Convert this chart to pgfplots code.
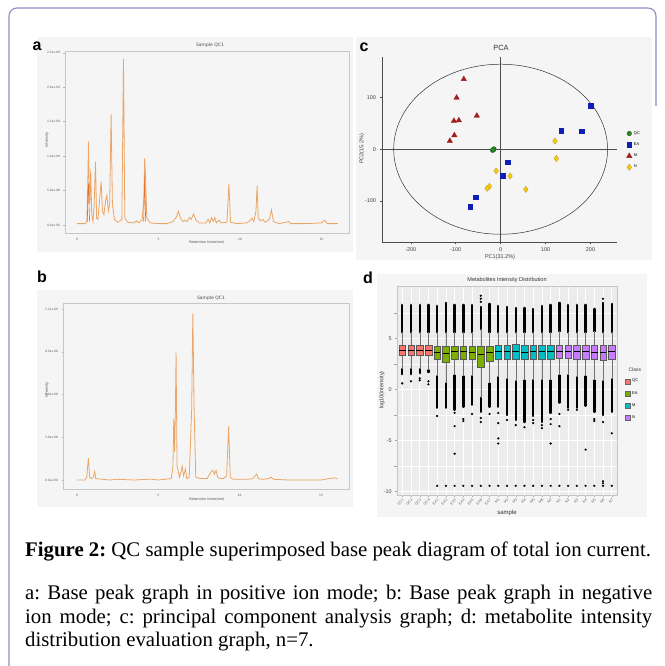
\documentclass[border=0pt]{standalone}
\usepackage{fontspec}
\setmainfont{Liberation Serif}
\setsansfont{Liberation Sans}
\newfontfamily\dejavu{DejaVu Sans}
\usepackage{pgfplots}
\pgfplotsset{compat=1.18}
\usepgfplotslibrary{statistics}
\frenchspacing
\definecolor{bordc}{RGB}{140,140,200}
\definecolor{panelbg}{RGB}{245,245,245}
\definecolor{chromc}{RGB}{236,165,100}
\definecolor{chromd}{RGB}{228,115,40}
\definecolor{qcg}{RGB}{40,140,40}
\definecolor{eab}{RGB}{15,30,180}
\definecolor{mr}{RGB}{160,30,30}
\definecolor{ny}{RGB}{245,205,20}
\definecolor{qcc}{RGB}{248,118,109}
\definecolor{eac}{RGB}{124,174,0}
\definecolor{mc}{RGB}{0,191,196}
\definecolor{nc}{RGB}{199,124,255}
\definecolor{dbg}{RGB}{236,236,236}
\newcommand{\bx}[7]{\addplot[boxplot prepared={draw position=#1, lower whisker=#2, lower quartile=#3, median=#4, upper quartile=#5, upper whisker=#6, box extend=0.75, whisker extend=0}, fill=#7, draw=black!65, line width=0.35pt, forget plot] coordinates {};}
\pgfplotsset{
  chrom/.style={scale only axis, axis line style={draw=gray!45, line width=0.4pt},
    tick style={gray!60, line width=0.3pt}, major tick length=1.5pt, tick align=outside,
    xtick pos=lower, ytick pos=left,
    tick label style={font=\dejavu\fontsize{3}{3.5}\selectfont, text=gray!70!black},
    /pgf/number format/assume math mode=true,
    xtick={0,5,10,15}}
}
\begin{document}
\begin{tikzpicture}
\path[use as bounding box] (0pt,0pt) rectangle (664pt,666pt);
% outer frame
\draw[bordc, line width=1.1pt] (9pt,0pt) -- (9pt,650pt) arc[start angle=180, end angle=90, radius=8pt] -- (648pt,658pt) arc[start angle=90, end angle=0, radius=8pt] -- (656pt,560pt);
% panel backgrounds
\fill[panelbg] (37pt,414pt) rectangle (353pt,629pt);
\fill[panelbg] (37pt,159pt) rectangle (353pt,376pt);
\fill[panelbg] (356pt,406pt) rectangle (652pt,629pt);
\fill[panelbg] (377pt,149pt) rectangle (647pt,392pt);
% panel letters
\node[font=\sffamily\bfseries\fontsize{16}{16}\selectfont] at (37pt,620pt) {a};
\node[font=\sffamily\bfseries\fontsize{16}{16}\selectfont] at (42pt,389pt) {b};
\node[font=\sffamily\bfseries\fontsize{16}{16}\selectfont] at (364pt,619pt) {c};
\node[font=\sffamily\bfseries\fontsize{16}{16}\selectfont] at (368pt,388pt) {d};

% ---------------- panel a
\begin{axis}[chrom, at={(65pt,433pt)}, anchor=south west, width=284pt, height=182pt,
  xmin=-0.74, xmax=16.69, ymin=-0.116, ymax=2.525,
  ytick={0,0.5,1,1.5,2,2.5},
  yticklabels={0.0e+00,5.0e+08,1.0e+09,1.5e+09,2.0e+09,2.5e+09}]
\addplot[chromc, line width=0.8pt] coordinates {
(0,0.02) (0.5,0.02) (0.6,0.05) (0.65,0.5) (0.70,1.21) (0.74,0.6) (0.78,0.3) (0.84,0.80) (0.90,0.15)
(0.98,0.05) (1.05,0.3) (1.13,0.92) (1.2,0.1) (1.28,0.08) (1.36,0.3) (1.48,0.63) (1.56,0.2) (1.65,0.15)
(1.75,0.35) (1.83,0.43) (1.92,0.2) (2.0,0.3) (2.09,1.60) (2.17,0.3) (2.3,0.08) (2.5,0.04) (2.75,0.08)
(2.85,2.41) (2.93,0.1) (3.1,0.04) (3.5,0.03) (3.65,0.06) (3.8,0.03) (4.0,0.08) (4.1,0.4) (4.15,0.97)
(4.2,0.73) (4.28,0.1) (4.5,0.03) (5.0,0.02) (5.5,0.02) (5.9,0.05) (6.1,0.12) (6.22,0.2) (6.35,0.1)
(6.5,0.05) (6.6,0.07) (6.75,0.05) (6.9,0.11) (7.0,0.08) (7.15,0.16) (7.3,0.07) (7.5,0.03) (7.9,0.03)
(8.05,0.08) (8.15,0.03) (8.25,0.11) (8.35,0.05) (8.45,0.11) (8.55,0.03) (8.7,0.07) (8.85,0.03)
(9.2,0.04) (9.32,0.60) (9.42,0.04) (9.8,0.02) (10.4,0.03) (10.6,0.06) (10.74,0.1) (10.85,0.05)
(10.98,0.2) (11.05,0.57) (11.12,0.1) (11.25,0.06) (11.4,0.08) (11.55,0.04) (11.8,0.08) (11.93,0.22)
(12.05,0.05) (12.4,0.02) (13.0,0.05) (13.1,0.02) (14.0,0.02) (15.0,0.03) (15.2,0.07) (15.35,0.02) (16.0,0.02)};
\addplot[chromd, line width=0.6pt] coordinates {(0.63,0.05) (0.67,0.5) (0.70,0.6) (0.73,0.35) (0.77,0.05)};
\addplot[chromd, line width=0.6pt] coordinates {(4.09,0.05) (4.15,0.73) (4.21,0.05)};
\end{axis}
\node[font=\dejavu\fontsize{4.5}{5}\selectfont, text=black!70] at (210pt,621pt) {Sample QC1};
\node[font=\dejavu\fontsize{3.5}{4}\selectfont, text=black!70, rotate=90] at (47pt,526pt) {Intensity};
\node[font=\dejavu\fontsize{3.5}{4}\selectfont, text=black!70] at (207pt,424pt) {Retention time(min)};

% ---------------- panel b
\begin{axis}[chrom, at={(63pt,177pt)}, anchor=south west, width=286pt, height=186pt,
  xmin=-0.86, xmax=16.72, ymin=-0.063, ymax=1.242,
  ytick={0,0.3,0.6,0.9,1.2},
  yticklabels={0.0e+00,3.0e+08,6.0e+08,9.0e+08,1.2e+09}]
\addplot[chromc, line width=0.8pt] coordinates {
(0,0.0) (0.5,0.0) (0.6,0.02) (0.70,0.154) (0.78,0.02) (0.9,0.01) (1.0,0.02) (1.09,0.06) (1.15,0.01)
(2.0,0.0) (2.5,0.005) (3.5,0.0) (4.3,0.005) (4.6,0.005) (5.0,0.0) (5.8,0.01) (5.9,0.1) (5.95,0.43)
(6.0,0.2) (6.05,0.5) (6.09,0.894) (6.15,0.1) (6.3,0.02) (6.4,0.06) (6.47,0.096) (6.55,0.03) (6.6,0.05)
(6.67,0.077) (6.75,0.01) (6.9,0.02) (7.05,0.5) (7.12,1.17) (7.2,0.5) (7.3,0.02) (7.6,0.01) (8.0,0.01)
(8.1,0.03) (8.25,0.06) (8.35,0.068) (8.45,0.04) (8.55,0.068) (8.65,0.02) (8.8,0.01) (9.0,0.01)
(9.2,0.03) (9.32,0.376) (9.42,0.02) (9.6,0.005) (10.5,0.005) (10.8,0.01) (11.05,0.042) (11.15,0.01)
(11.4,0.005) (11.8,0.01) (11.93,0.02) (12.1,0.005) (13.0,0.0) (14.0,0.0) (15.0,0.0) (15.5,0.01)
(15.8,0.015) (16.0,0.01)};
\end{axis}
\node[font=\dejavu\fontsize{4.5}{5}\selectfont, text=black!70] at (211pt,368pt) {Sample QC1};
\node[font=\dejavu\fontsize{3.5}{4}\selectfont, text=black!70, rotate=90] at (47pt,276pt) {Intensity};
\node[font=\dejavu\fontsize{3.5}{4}\selectfont, text=black!70] at (207pt,167pt) {Retention time(min)};

% ---------------- panel c
\begin{axis}[at={(382pt,424pt)}, anchor=south west, scale only axis, width=235pt, height=185pt,
  xmin=-264, xmax=259, ymin=-180, ymax=179,
  axis x line*=bottom, axis y line*=left,
  axis line style={draw=black!70, line width=0.6pt},
  tick style={black!70, line width=0.5pt}, tick align=outside, major tick length=2.5pt,
  xtick={-200,-100,0,100,200}, ytick={-100,0,100},
  tick label style={font=\sffamily\fontsize{5.5}{6}\selectfont, text=black!75},
  /pgf/number format/assume math mode=true, clip=false,
  legend style={at={(rel axis cs:1.04,0.61)}, anchor=north west, draw=none, fill=none,
    font=\sffamily\fontsize{4}{4.5}\selectfont, row sep=3pt, inner sep=0pt},
  legend cell align=left,
  legend image code/.code={\draw[mark repeat=2,mark phase=2,#1] plot coordinates {(0pt,0pt) (3pt,0pt) (6pt,0pt)};}]
\draw[black!80, line width=0.5pt] (axis cs:0,0) ellipse [x radius=238, y radius=165];
\addplot[black!70, line width=0.6pt, forget plot] coordinates {(0,-180) (0,179)};
\addplot[black!70, line width=0.6pt, forget plot] coordinates {(-264,0) (259,0)};
\addplot[only marks, mark=*, mark size=2.3pt, qcg, mark options={draw=qcg!70!black}] coordinates {(-17.8,-2) (-15.5,-0.5) (-14.8,0.5) (-16.5,-1)};
\addlegendentry{QC}
\addplot[only marks, mark=square*, mark size=2.3pt, eab] coordinates {(200,84) (135,36) (180,35) (16,-25) (4,-51) (-56,-93) (-68,-111)};
\addlegendentry{EA}
\addplot[only marks, mark=triangle*, mark size=3.1pt, mr] coordinates {(-82,136) (-98,100) (-53,65) (-104,55) (-93,56) (-103,27) (-113,16)};
\addlegendentry{M}
\addplot[only marks, mark=diamond*, mark size=3.1pt, ny, mark options={draw=ny!75!black, line width=0.3pt}] coordinates {(121,16) (124,-18) (-10,-42) (21,-52) (56,-78) (-25,-72) (-30,-76)};
\addlegendentry{N}
\end{axis}
\node[font=\sffamily\fontsize{7.5}{8}\selectfont, text=black!80] at (501pt,618pt) {PCA};
\node[font=\sffamily\fontsize{5.5}{6}\selectfont, text=black!75, rotate=90] at (362pt,517pt) {PC2(15.2\%)};
\node[font=\sffamily\fontsize{5.5}{6}\selectfont, text=black!75] at (500pt,409pt) {PC1(31.2\%)};

% ---------------- panel d
\begin{axis}[at={(397pt,171pt)}, anchor=south west, scale only axis, width=220pt, height=209pt,
  xmin=0.4, xmax=25.6, ymin=-10.35, ymax=10.15,
  axis background/.style={fill=dbg},
  axis line style={draw=gray!45, line width=0.5pt},
  tick style={gray!70, line width=0.4pt}, tick align=outside, major tick length=1.8pt,
  xtick pos=lower, ytick pos=left,
  xtick={1,...,25},
  xticklabels={QC1,QC2,QC3,QC4,EA1,EA2,EA3,EA4,EA5,EA6,EA7,M1,M2,M3,M4,M5,M6,M7,N1,N2,N3,N4,N5,N6,N7},
  x tick label style={rotate=45, anchor=north east, font=\sffamily\fontsize{3.6}{4}\selectfont, text=black!60, inner sep=1pt},
  ytick={-10,-5,0,5},
  minor ytick={-7.5,-2.5,2.5,7.5},
  y tick label style={font=\sffamily\fontsize{5.5}{6}\selectfont, text=black!70},
  /pgf/number format/assume math mode=true,
  grid=both, major grid style={white, line width=0.6pt}, minor grid style={white, line width=0.3pt},
  boxplot/draw direction=y,
  boxplot/every median/.style={black, line width=0.9pt},
  boxplot/every whisker/.style={black!55, line width=0.35pt},
  legend style={at={(rel axis cs:1.035,0.565)}, anchor=north west, draw=none, fill=none,
    font=\sffamily\fontsize{4}{4.5}\selectfont, row sep=4pt, inner sep=0pt},
  legend cell align=left]
\addlegendimage{legend image code/.code={\draw[fill=qcc, draw=black!60, line width=0.3pt] (0pt,-2.5pt) rectangle (5pt,2.5pt);}}
\addlegendentry{QC}
\addlegendimage{legend image code/.code={\draw[fill=eac, draw=black!60, line width=0.3pt] (0pt,-2.5pt) rectangle (5pt,2.5pt);}}
\addlegendentry{EA}
\addlegendimage{legend image code/.code={\draw[fill=mc, draw=black!60, line width=0.3pt] (0pt,-2.5pt) rectangle (5pt,2.5pt);}}
\addlegendentry{M}
\addlegendimage{legend image code/.code={\draw[fill=nc, draw=black!60, line width=0.3pt] (0pt,-2.5pt) rectangle (5pt,2.5pt);}}
\addlegendentry{N}
% dense outlier columns
\addplot[black, line width=2.4pt, line cap=round, unbounded coords=jump, forget plot] coordinates {
(1,5.6) (1,8.3) (1,nan) (1,2.0) (1,1.5) (1,nan)
(2,5.6) (2,8.3) (2,nan) (2,2.0) (2,1.5) (2,nan)
(3,5.6) (3,8.3) (3,nan) (3,2.0) (3,1.6) (3,nan)
(4,5.6) (4,8.3) (4,nan) (4,1.9) (4,1.7) (4,nan)
(5,5.6) (5,8.2) (5,nan) (5,1.3) (5,-1.8) (5,nan)
(6,5.6) (6,8.5) (6,nan) (6,0.6) (6,-1.8) (6,nan)
(7,5.6) (7,8.3) (7,nan) (7,1.4) (7,-2.0) (7,nan)
(8,5.6) (8,8.3) (8,nan) (8,1.3) (8,-1.7) (8,nan)
(9,5.6) (9,8.3) (9,nan) (9,1.3) (9,-1.5) (9,nan)
(10,5.9) (10,8.1) (10,nan) (10,-0.8) (10,-2.2) (10,nan)
(11,5.6) (11,8.4) (11,nan) (11,0.6) (11,-1.7) (11,nan)
(12,5.6) (12,8.2) (12,nan) (12,1.2) (12,-1.7) (12,nan)
(13,5.6) (13,8.1) (13,nan) (13,1.0) (13,-2.5) (13,nan)
(14,5.6) (14,8.0) (14,nan) (14,0.8) (14,-3.0) (14,nan)
(15,5.6) (15,8.0) (15,nan) (15,0.9) (15,-3.2) (15,nan)
(16,5.6) (16,7.9) (16,nan) (16,0.9) (16,-2.6) (16,nan)
(17,5.6) (17,8.2) (17,nan) (17,0.9) (17,-3.2) (17,nan)
(18,5.6) (18,8.3) (18,nan) (18,0.9) (18,-2.3) (18,nan)
(19,5.7) (19,8.5) (19,nan) (19,1.4) (19,-1.3) (19,nan)
(20,5.6) (20,8.3) (20,nan) (20,1.4) (20,-1.8) (20,nan)
(21,5.6) (21,8.3) (21,nan) (21,1.2) (21,-1.8) (21,nan)
(22,5.6) (22,8.3) (22,nan) (22,1.3) (22,-1.6) (22,nan)
(23,5.7) (23,7.9) (23,nan) (23,0.9) (23,-2.2) (23,nan)
(24,5.6) (24,8.5) (24,nan) (24,0.8) (24,-2.5) (24,nan)
(25,5.6) (25,8.4) (25,nan) (25,1.0) (25,-2.2)};
% isolated outliers
\addplot[only marks, mark=*, mark size=0.9pt, black, forget plot] coordinates {
(1,0.6) (2,0.8) (3,0.9) (3,1.1) (4,0.5) (4,0.8)
(5,-2.6) (7,-2.3) (7,-3.6) (7,-6.3) (8,-2.9) (8,-3.1) (9,-2.4) (10,-2.8) (10,-3.2) (10,8.6) (10,8.9) (10,9.2) (11,-2.4)
(12,-2.3) (12,-3.3) (12,-4.8) (12,-5.3) (13,-3.0) (14,-3.5) (15,-3.7) (16,-3.0) (16,-3.3) (17,-3.5) (17,-3.8) (18,-2.9) (18,-3.4) (18,-5.3)
(19,-2.4) (19,-3.6) (20,-2.0) (21,-2.0) (22,-5.9) (23,-2.9) (23,-3.1) (24,-3.2) (24,8.9) (24,-9.0) (24,-9.2) (25,-4.3)
(5,-9.45) (6,-9.45) (7,-9.45) (8,-9.45) (9,-9.45) (10,-9.45) (11,-9.45) (12,-9.45) (13,-9.45) (14,-9.45) (15,-9.45)
(16,-9.45) (17,-9.45) (18,-9.45) (19,-9.45) (20,-9.45) (21,-9.45) (22,-9.45) (23,-9.45) (24,-9.45) (25,-9.45)};
% boxes
\bx{1}{2.0}{3.35}{3.85}{4.3}{5.6}{qcc}
\bx{2}{2.0}{3.35}{3.85}{4.3}{5.6}{qcc}
\bx{3}{2.0}{3.35}{3.85}{4.3}{5.6}{qcc}
\bx{4}{1.9}{3.35}{3.85}{4.3}{5.6}{qcc}
\bx{5}{1.3}{3.0}{3.65}{4.25}{5.6}{eac}
\bx{6}{0.6}{2.7}{3.55}{4.25}{5.6}{eac}
\bx{7}{1.4}{3.0}{3.7}{4.25}{5.6}{eac}
\bx{8}{1.3}{3.0}{3.7}{4.25}{5.6}{eac}
\bx{9}{1.3}{3.0}{3.6}{4.25}{5.6}{eac}
\bx{10}{-0.8}{2.2}{3.45}{4.2}{5.9}{eac}
\bx{11}{0.6}{2.8}{3.6}{4.25}{5.6}{eac}
\bx{12}{1.2}{2.95}{3.7}{4.35}{5.6}{mc}
\bx{13}{1.0}{2.95}{3.7}{4.35}{5.6}{mc}
\bx{14}{0.8}{2.95}{3.7}{4.4}{5.6}{mc}
\bx{15}{0.9}{2.95}{3.65}{4.35}{5.6}{mc}
\bx{16}{0.9}{2.95}{3.7}{4.35}{5.6}{mc}
\bx{17}{0.9}{2.95}{3.7}{4.35}{5.6}{mc}
\bx{18}{0.9}{2.95}{3.7}{4.35}{5.6}{mc}
\bx{19}{1.4}{3.05}{3.7}{4.35}{5.7}{nc}
\bx{20}{1.4}{3.05}{3.7}{4.35}{5.6}{nc}
\bx{21}{1.2}{3.0}{3.7}{4.35}{5.6}{nc}
\bx{22}{1.3}{3.0}{3.7}{4.35}{5.6}{nc}
\bx{23}{0.9}{2.95}{3.65}{4.3}{5.7}{nc}
\bx{24}{0.8}{2.9}{3.65}{4.35}{5.6}{nc}
\bx{25}{1.0}{2.95}{3.7}{4.35}{5.6}{nc}
\end{axis}
\node[font=\sffamily\fontsize{5.5}{6}\selectfont, text=black!80] at (507pt,386pt) {Metabolites Intensity Distribution};
\node[font=\sffamily\fontsize{5.5}{6}\selectfont, text=black!80, rotate=90] at (382pt,276pt) {log10(intensity)};
\node[font=\sffamily\fontsize{6}{6}\selectfont, text=black!80] at (507pt,153pt) {sample};
\node[font=\sffamily\fontsize{5}{5}\selectfont, text=black!80, anchor=west] at (625pt,296pt) {Class};

% ---------------- caption
\node[anchor=base west, inner sep=0pt, font=\fontsize{20.8}{25}\selectfont] at (25pt,109pt) {\textbf{Figure 2:} QC sample superimposed base peak diagram of total ion current.};
\node[anchor=base west, inner sep=0pt, font=\fontsize{20.8}{25}\selectfont] at (25pt,66pt) {\makebox[627pt][s]{a: Base peak graph in positive ion mode; b: Base peak graph in negative}};
\node[anchor=base west, inner sep=0pt, font=\fontsize{20.8}{25}\selectfont] at (25pt,42.5pt) {\makebox[627pt][s]{ion mode; c: principal component analysis graph; d: metabolite intensity}};
\node[anchor=base west, inner sep=0pt, font=\fontsize{20.8}{25}\selectfont] at (25pt,19pt) {distribution evaluation graph, n=7.};
\end{tikzpicture}
\end{document}
